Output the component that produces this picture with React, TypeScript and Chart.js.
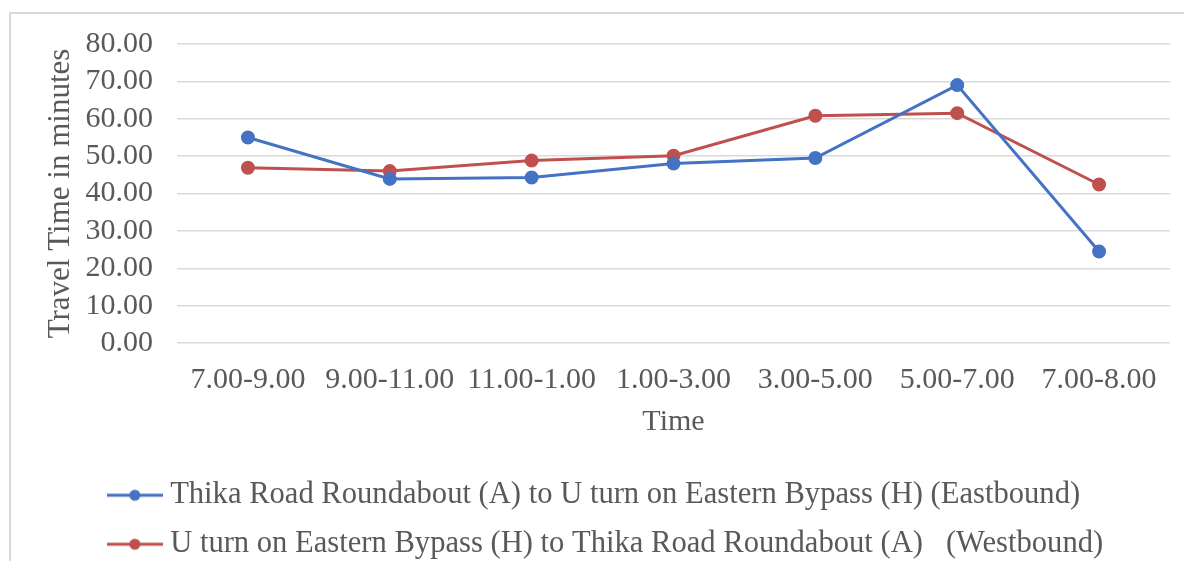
import React, { useEffect, useRef } from "react";
import { Chart, registerables } from "chart.js";

Chart.register(...registerables);

const categories = ["7.00-9.00", "9.00-11.00", "11.00-1.00", "1.00-3.00", "3.00-5.00", "5.00-7.00", "7.00-8.00"];
const eastboundLabel = "Thika Road Roundabout (A) to U turn on Eastern Bypass (H) (Eastbound)";
const westboundLabel = "U turn on Eastern Bypass (H) to Thika Road Roundabout (A)   (Westbound)";
const eastbound = [55.0, 43.9, 44.3, 48.0, 49.5, 69.0, 24.5];
const westbound = [46.9, 46.0, 48.8, 50.1, 60.8, 61.5, 42.4];
const yTicks = [0, 10, 20, 30, 40, 50, 60, 70, 80];
const xTitle = "Time";
const yTitle = "Travel Time in minutes";

const BLUE = "#4472C4";
const RED = "#C0504D";
const TEXT = "#595959";
const GRID = "#D9D9D9";
const FONT = "'Liberation Serif', 'Times New Roman', serif";

function makeMarker(color: string): HTMLCanvasElement {
  const c = document.createElement("canvas");
  c.width = 56;
  c.height = 14;
  const ctx = c.getContext("2d")!;
  ctx.strokeStyle = color;
  ctx.lineWidth = 3;
  ctx.beginPath();
  ctx.moveTo(0, 7);
  ctx.lineTo(56, 7);
  ctx.stroke();
  ctx.fillStyle = color;
  ctx.beginPath();
  ctx.arc(28, 7, 5.5, 0, Math.PI * 2);
  ctx.fill();
  return c;
}

// keep legend rows left-aligned as one block (like the reference)
const legendBlockPlugin = {
  id: "legendBlock",
  beforeDraw(chart: any) {
    const lg = chart.legend;
    if (!lg || !lg.lineWidths) return;
    const m = Math.max(...lg.lineWidths);
    lg.lineWidths = lg.lineWidths.map(() => m - 40);
  },
};

export default function App() {
  const ref = useRef<HTMLCanvasElement | null>(null);

  useEffect(() => {
    if (!ref.current) return;
    const markers = [makeMarker(BLUE), makeMarker(RED)];
    const chart = new Chart(ref.current, {
      type: "line",
      data: {
        labels: categories,
        datasets: [
          {
            label: eastboundLabel,
            data: eastbound,
            borderColor: BLUE,
            backgroundColor: BLUE,
            borderWidth: 3,
            pointRadius: 5.5,
            pointHoverRadius: 5.5,
            tension: 0,
          },
          {
            label: westboundLabel,
            data: westbound,
            borderColor: RED,
            backgroundColor: RED,
            borderWidth: 3,
            pointRadius: 5.5,
            pointHoverRadius: 5.5,
            tension: 0,
          },
        ],
      },
      plugins: [legendBlockPlugin],
      options: {
        animation: false,
        responsive: false,
        maintainAspectRatio: false,
        layout: { padding: { top: 28, right: 14, bottom: 3.5, left: 0 } },
        plugins: {
          tooltip: { enabled: false },
          legend: {
            position: "bottom",
            labels: {
              color: TEXT,
              font: { family: FONT, size: 30.6 },
              usePointStyle: true,
              pointStyleWidth: 40,
              padding: 18.4,
              generateLabels: (chart: any) => {
                const items = Chart.defaults.plugins.legend.labels.generateLabels(chart);
                return items.map((it: any, i: number) => ({ ...it, pointStyle: markers[i] }));
              },
            },
          },
        },
        scales: {
          x: {
            offset: true,
            grid: { display: false, drawTicks: false },
            border: { display: false },
            ticks: {
              color: TEXT,
              font: { family: FONT, size: 30 },
              padding: 19,
              maxRotation: 0,
              autoSkip: false,
            },
            title: {
              display: true,
              text: xTitle,
              color: TEXT,
              font: { family: FONT, size: 30 },
              padding: { top: 0, bottom: 21 },
            },
            afterFit: (axis: any) => {
              axis.height = 118.5;
            },
          },
          y: {
            min: 0,
            max: 80,
            afterBuildTicks: (axis: any) => {
              axis.ticks = yTicks.map((v) => ({ value: v }));
            },
            grid: { color: GRID, lineWidth: 1.5, drawTicks: false },
            border: { display: false },
            ticks: {
              color: TEXT,
              font: { family: FONT, size: 30 },
              padding: 24,
              autoSkip: false,
              callback: (v: any) => Number(v).toFixed(2),
            },
            title: {
              display: true,
              text: yTitle,
              color: TEXT,
              font: { family: FONT, size: 31 },
              padding: { top: 34, bottom: 0 },
            },
            afterFit: (axis: any) => {
              axis.width = 169;
            },
          },
        },
      },
    });
    return () => chart.destroy();
  }, []);

  return (
    <div style={{ position: "relative", width: 1176, height: 553, overflow: "hidden" }}>
      <div
        style={{
          position: "absolute",
          left: 1,
          top: 4,
          width: 1300,
          height: 700,
          borderLeft: `2px solid ${GRID}`,
          borderTop: `2px solid ${GRID}`,
          boxSizing: "border-box",
        }}
      />
      <canvas ref={ref} width={1176} height={571} style={{ position: "absolute", left: 0, top: -6 }} />
    </div>
  );
}
